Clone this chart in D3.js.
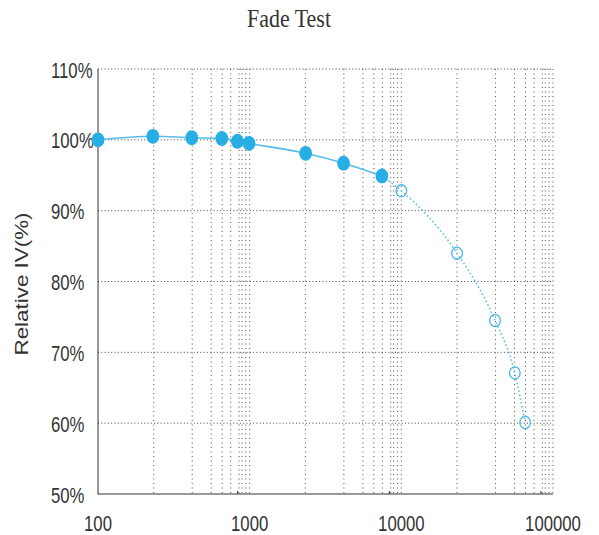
<!DOCTYPE html>
<html>
<head>
<meta charset="utf-8">
<script src="https://cdn.jsdelivr.net/npm/d3@7"></script>
<style>
  html, body { margin: 0; padding: 0; background: #fff; }
  svg { display: block; }
</style>
</head>
<body>
<svg id="chart" width="599" height="535"></svg>
<script>
// ---- data ----
const measuredHours = [100, 230, 415, 655, 830, 990, 2340, 4160, 7450];
const measuredIV    = [100.0, 100.5, 100.3, 100.2, 99.8, 99.5, 98.1, 96.7, 94.9];
const projectedHours = [10000, 23300, 41500, 56000, 65500];
const projectedIV    = [92.8, 84.0, 74.5, 67.1, 60.1];
const xTickValues = [100, 1000, 10000, 100000];
const xTickLabels = ["100", "1000", "10000", "100000"];
const yTickValues = [50, 60, 70, 80, 90, 100, 110];
const yTickLabels = ["50%", "60%", "70%", "80%", "90%", "100%", "110%"];
const gridMultipliers = [2.33, 4.18, 5.58, 6.59, 7.5, 8.51, 8.9, 9.42, 10];
const minorTickMultiplier = [8.33];
const decades = [100, 1000, 10000];
const titleText = "Fade Test";
const yTitle = "Relative  IV(%)";

(function () {
// ---- layout ----
const svg = d3.select("#chart");
const mLeft = 98, mRight = 553, mTop = 69, mBottom = 494;

const x = d3.scaleLog().domain([100, 100000]).range([mLeft, mRight]);
const y = d3.scaleLinear().domain([50, 110]).range([mBottom, mTop]);

const gridCol = "#333";
const blue = "#27aee5";
const lineBlue = "#55bdea";

// vertical grid lines
const vGrid = [];
decades.forEach(d => gridMultipliers.forEach(m => { const v = d * m; if (v <= 100000) vGrid.push(v); }));
svg.append("g").selectAll("line").data(vGrid).join("line")
  .attr("x1", d => x(d)).attr("x2", d => x(d))
  .attr("y1", y(110)).attr("y2", y(50))
  .attr("stroke", gridCol).attr("stroke-width", 1)
  .attr("stroke-dasharray", "1,3.5")
  .attr("opacity", 0.85);

// horizontal grid lines
svg.append("g").selectAll("line").data(yTickValues.filter(v => v > 50)).join("line")
  .attr("x1", mLeft).attr("x2", mRight - 1)
  .attr("y1", d => y(d)).attr("y2", d => y(d))
  .attr("stroke", gridCol).attr("stroke-width", 1)
  .attr("stroke-dasharray", "1,2.3")
  .attr("opacity", 0.9);

// axes lines
svg.append("line").attr("x1", mLeft).attr("x2", mLeft).attr("y1", y(110)).attr("y2", y(50) + 0.5)
  .attr("stroke", "#333").attr("stroke-width", 1);
svg.append("line").attr("x1", mLeft).attr("x2", mRight).attr("y1", y(50)).attr("y2", y(50))
  .attr("stroke", "#333").attr("stroke-width", 1);

// small x ticks
const smallTicks = decades.map(d => d * minorTickMultiplier[0]);
svg.append("g").selectAll("line").data(smallTicks).join("line")
  .attr("x1", d => x(d)).attr("x2", d => x(d))
  .attr("y1", y(50) - 3).attr("y2", y(50))
  .attr("stroke", "#333").attr("stroke-width", 1);

function condense(sel, factor) {
  sel.each(function () {
    const w = this.getComputedTextLength();
    d3.select(this).attr("textLength", w * factor).attr("lengthAdjust", "spacingAndGlyphs");
  });
}

// y tick labels (left aligned)
const yl = svg.append("g").selectAll("text").data(yTickValues).join("text")
  .attr("x", 51).attr("y", d => y(d) + 8.5)
  .attr("font-family", "Liberation Sans, Arial, sans-serif")
  .attr("font-size", 22).attr("fill", "#333")
  .text((d, i) => yTickLabels[i]);
condense(yl, 0.76);

// x tick labels
const xl = svg.append("g").selectAll("text").data(xTickValues).join("text")
  .attr("x", d => x(d)).attr("y", 531)
  .attr("text-anchor", "middle")
  .attr("font-family", "Liberation Sans, Arial, sans-serif")
  .attr("font-size", 22).attr("fill", "#333")
  .text((d, i) => xTickLabels[i]);
condense(xl, 0.76);

// title
svg.append("text").attr("x", 289).attr("y", 27).attr("text-anchor", "middle")
  .attr("font-family", "Liberation Serif, Times New Roman, serif")
  .attr("font-size", 26).attr("fill", "#333")
  .attr("textLength", 84).attr("lengthAdjust", "spacingAndGlyphs")
  .text(titleText);

// y axis title
svg.append("text")
  .attr("transform", "translate(28,284) rotate(-90)")
  .attr("text-anchor", "middle")
  .attr("font-family", "Liberation Sans, Arial, sans-serif")
  .attr("font-size", 18).attr("fill", "#333")
  .attr("textLength", 143).attr("lengthAdjust", "spacingAndGlyphs")
  .text(yTitle);

// lines
const measured = measuredHours.map((h, i) => ({ h, v: measuredIV[i] }));
const projected = [measured[measured.length - 1]].concat(projectedHours.map((h, i) => ({ h, v: projectedIV[i] })));
const line = d3.line().x(d => x(d.h)).y(d => y(d.v)).curve(d3.curveMonotoneX);

svg.append("path").datum(measured).attr("d", line)
  .attr("fill", "none").attr("stroke", lineBlue).attr("stroke-width", 1.6);
svg.append("path").datum(projected).attr("d", line)
  .attr("fill", "none").attr("stroke", lineBlue).attr("stroke-width", 1.6)
  .attr("stroke-dasharray", "1.5,2.5");

// points
svg.append("g").selectAll("ellipse").data(measured).join("ellipse")
  .attr("cx", d => x(d.h)).attr("cy", d => y(d.v))
  .attr("rx", 6.4).attr("ry", 7.4)
  .attr("fill", blue);
svg.append("g").selectAll("ellipse").data(projected.slice(1)).join("ellipse")
  .attr("cx", d => x(d.h)).attr("cy", d => y(d.v))
  .attr("rx", 5.3).attr("ry", 6.1)
  .attr("fill", "none").attr("stroke", "#49b6ea").attr("stroke-width", 1.3);
})();
</script>
</body>
</html>
